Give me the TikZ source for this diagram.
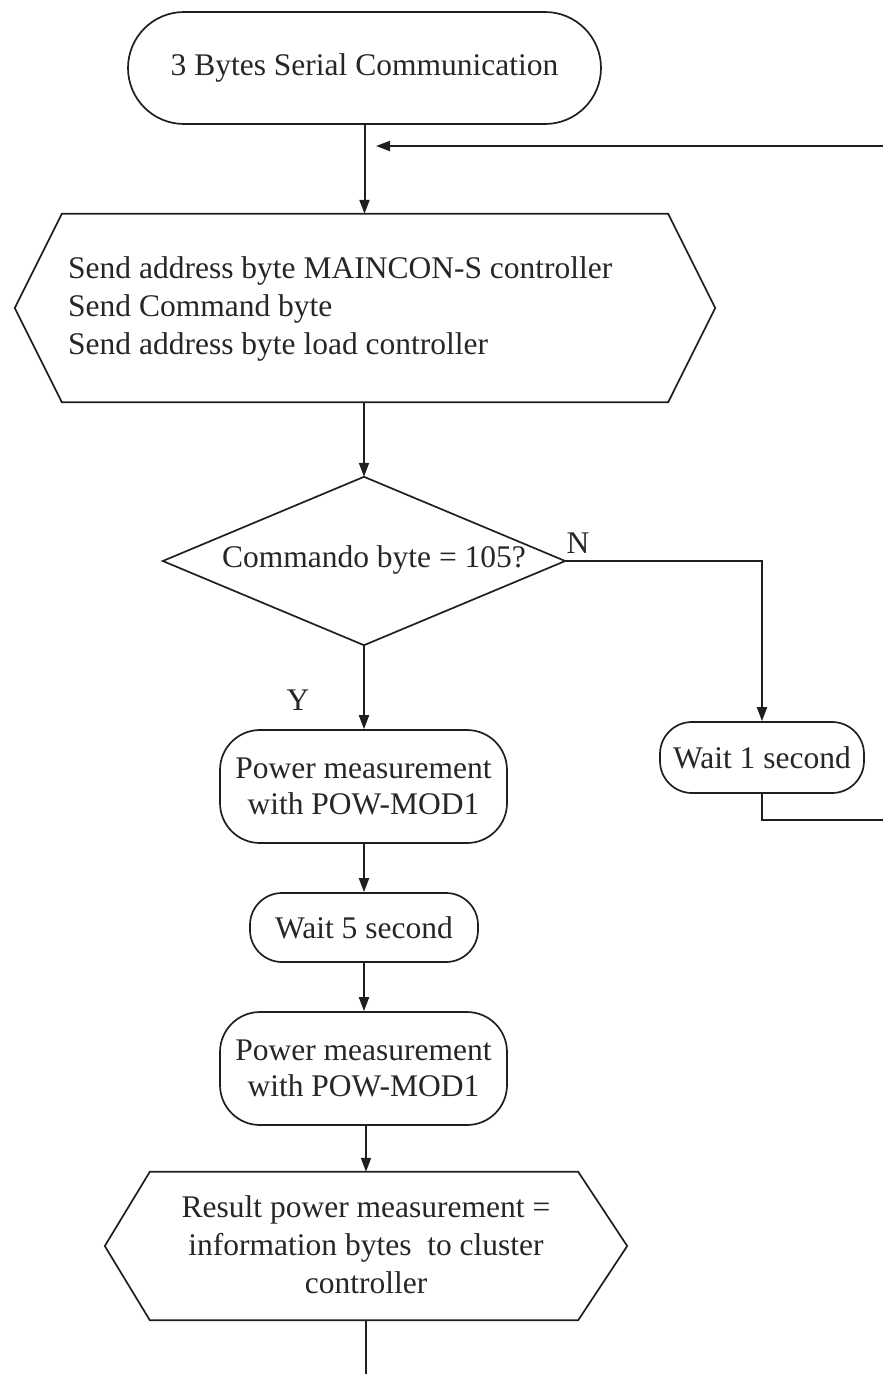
\documentclass[tikz,border=0pt]{standalone}
\usepackage{fontspec}
\setmainfont{Liberation Serif}
\usetikzlibrary{arrows.meta}
\begin{document}
\begin{tikzpicture}[x=1pt,y=-1pt]
\tikzset{
  line/.style={line width=2pt, draw=black!88},
  arr/.style={line, -{Triangle[length=14pt,width=10pt]}},
  txt/.style={font=\fontsize{31.5}{37}\selectfont, text=black!85, inner sep=0pt, align=center},
  rbox/.style={txt, draw=black!88, line width=1.7pt, rounded corners=#1},
  frame/.style={inner sep=0pt, draw=none}
}
\useasboundingbox (0,0) rectangle (883,1374);

% nodes
\node[rbox=56, minimum width=473, minimum height=112] (start) at (364.5,68) {3 Bytes Serial Communication};

\node[frame, minimum width=700, minimum height=188] (send) at (365,308) {};
\draw[line, line width=1.7pt] ([xshift=47]send.north west) -- ([xshift=-47]send.north east) -- (send.east)
  -- ([xshift=-47]send.south east) -- ([xshift=47]send.south west) -- (send.west) -- cycle;
\node[txt, align=left, anchor=west] (sendtxt) at (68,308.5) {Send address byte MAINCON-S controller\\[1pt]Send Command byte\\[1pt]Send address byte load controller};

\node[frame, minimum width=402, minimum height=168] (dec) at (364,561) {};
\draw[line, line width=1.7pt] (dec.north) -- (dec.east) -- (dec.south) -- (dec.west) -- cycle;
\node[txt] (dectxt) at (374,560) {Commando byte = 105?};

\node[rbox=40, minimum width=287, minimum height=113] (pow1) at (363.5,786.5) {Power measurement\\[-1pt]with POW-MOD1};
\node[rbox=32, minimum width=204, minimum height=71] (wait1) at (762,757.5) {Wait 1 second};
\node[rbox=32, minimum width=228, minimum height=69] (wait5) at (364,927.5) {Wait 5 second};
\node[rbox=40, minimum width=287, minimum height=113] (pow2) at (363.5,1068.5) {Power measurement\\[-1pt]with POW-MOD1};

\node[frame, minimum width=522, minimum height=148] (res) at (366,1246) {};
\draw[line, line width=1.7pt] ([xshift=45]res.north west) -- ([xshift=-49]res.north east) -- (res.east)
  -- ([xshift=-49]res.south east) -- ([xshift=45]res.south west) -- (res.west) -- cycle;
\node[txt] (restxt) at (366,1245) {Result power measurement =\\[1pt]information bytes\ \ to cluster\\[1pt]controller};

\node[txt] (nlab) at (578,543) {N};
\node[txt] (ylab) at (298,700) {Y};

\coordinate (fbR) at (883,146);
\coordinate (fbL) at (376,146);
\coordinate (rt) at (883,820);
\coordinate (endc) at (364,1374);

% connectors
\draw[arr] (start.south) -- (start.south |- send.north);
\draw[arr] (fbR) -- (fbL);
\draw[arr] (send.south -| dec.north) -- (dec.north);
\draw[arr] (dec.east) -| (wait1.north);
\draw[line] (wait1.south) |- (rt);
\draw[arr] (dec.south) -- (dec.south |- pow1.north);
\draw[arr] (pow1.south -| wait5.north) -- (wait5.north);
\draw[arr] (wait5.south) -- (wait5.south |- pow2.north);
\draw[arr] (pow2.south -| res.north) -- (res.north);
\draw[line] (res.south) -- (res.south |- endc);
\end{tikzpicture}
\end{document}
